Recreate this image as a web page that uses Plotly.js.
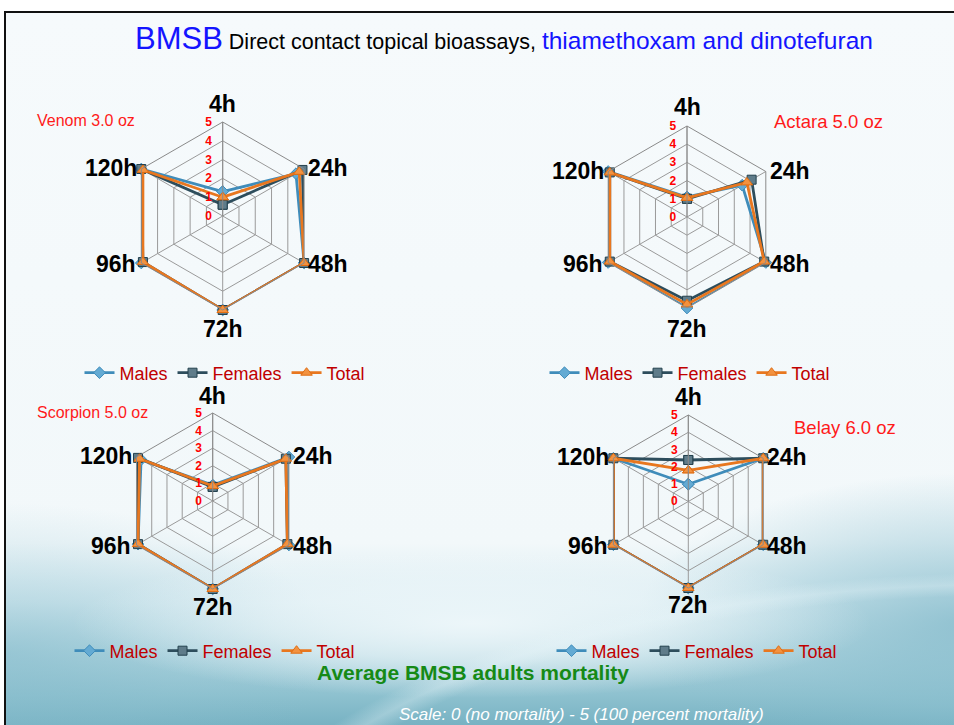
<!DOCTYPE html>
<html>
<head>
<meta charset="utf-8">
<script src="https://cdn.plot.ly/plotly-3.0.1.min.js"></script>
<style>
  html, body { margin: 0; padding: 0; background: #ffffff; }
  #wrap { position: relative; width: 954px; height: 725px; overflow: hidden; background: #ffffff; }
  #bg {
    position: absolute; left: 4px; top: 11px; width: 960px; height: 720px;
    border-left: 2px solid #111; border-top: 2px solid #111;
    background:
      radial-gradient(ellipse 800px 330px at 1000px 890px, rgba(255,255,255,0) 93%, rgba(232,245,249,0.32) 96.5%, rgba(255,255,255,0) 100%),
      radial-gradient(ellipse 400px 75px at 466px 610px, rgba(238,247,250,0.95) 0%, rgba(238,247,250,0.6) 50%, rgba(238,247,250,0) 100%),
      radial-gradient(ellipse 330px 150px at 960px 610px, rgba(128,184,201,0.75) 0%, rgba(140,192,208,0.4) 55%, rgba(140,192,208,0) 100%),
      radial-gradient(ellipse 330px 150px at 0px 640px, rgba(128,184,201,0.5) 0%, rgba(140,192,208,0.25) 55%, rgba(140,192,208,0) 100%),
      linear-gradient(to bottom, #f6fafc 0px, #f2f8fa 530px, #d8ebf1 590px, #abd2dd 645px, #8ec1cf 682px, #76b1c2 714px);
  }
  #chart { position: absolute; left: 0; top: 0; width: 954px; height: 725px; }
</style>
</head>
<body>
<div id="wrap">
  <div id="bg"></div>
  <div id="chart"></div>
</div>
<script>
// ---- data ----
var timepoints = ["4h", "24h", "48h", "72h", "96h", "120h"];
var seriesNames = ["Males", "Females", "Total"];
var radialTicks = [0, 1, 2, 3, 4, 5];

var venomMales   = [1.3, 4.5, 5.0, 5.0, 5.0, 5.0];
var venomFemales = [0.6, 4.9, 5.0, 5.0, 4.9, 5.0];
var venomTotal   = [1.0, 4.7, 5.0, 5.0, 4.9, 4.9];

var actaraMales   = [1.1, 3.5, 5.0, 5.0, 5.0, 5.0];
var actaraFemales = [1.0, 4.1, 4.9, 4.6, 4.9, 4.9];
var actaraTotal   = [1.05, 3.8, 4.9, 4.8, 4.9, 4.9];

var scorpionMales   = [0.9, 5.0, 5.0, 5.0, 4.9, 4.7];
var scorpionFemales = [0.8, 4.8, 4.9, 5.0, 4.9, 4.9];
var scorpionTotal   = [0.85, 4.8, 4.9, 5.0, 4.9, 4.8];

var belayMales   = [1.0, 5.0, 5.0, 5.0, 5.0, 5.0];
var belayFemales = [2.4, 5.0, 5.0, 5.0, 5.0, 5.0];
var belayTotal   = [1.8, 5.0, 5.0, 5.0, 5.0, 5.0];

var productLabels = ["Venom 3.0 oz", "Actara 5.0 oz", "Scorpion 5.0 oz", "Belay 6.0 oz"];

// ---- layout helpers ----
var W = 954, H = 725;
var FONT = "Liberation Sans, Arial, sans-serif";
var panels = [
  {cx: 222.7, cy: 216, r: 94, data: [venomMales, venomFemales, venomTotal], legend: {x: 225, y: 373}, top: 18, bot: 19},
  {cx: 687, cy: 217, r: 91, data: [actaraMales, actaraFemales, actaraTotal], legend: {x: 690, y: 373}, top: 19, bot: 21},
  {cx: 212.7, cy: 501, r: 88, data: [scorpionMales, scorpionFemales, scorpionTotal], legend: {x: 215, y: 651}, top: 17, bot: 18},
  {cx: 688.3, cy: 501.5, r: 86.5, data: [belayMales, belayFemales, belayTotal], legend: {x: 697, y: 651}, top: 18, bot: 17}
];
var styles = [
  {line: "#3f8cba", fill: "#63aad3", border: "#3f8cba", symbol: "diamond", size: 9},
  {line: "#2d4d5c", fill: "#5f7c8a", border: "#23404d", symbol: "square", size: 9},
  {line: "#e8771f", fill: "#f29240", border: "#e06d12", symbol: "triangle-up", size: 10}
];

var traces = [];
var layout = {
  width: W, height: H,
  margin: {l: 0, r: 0, t: 0, b: 0},
  paper_bgcolor: "rgba(0,0,0,0)",
  plot_bgcolor: "rgba(0,0,0,0)",
  font: {family: FONT},
  showlegend: true,
  annotations: []
};

function ann(text, x, y, xa, ya, font) {
  layout.annotations.push({
    text: text, xref: "paper", yref: "paper", x: x / W, y: 1 - y / H,
    xanchor: xa, yanchor: ya, showarrow: false, font: font
  });
}

var labelFont = {family: FONT, size: 23, color: "#000000", weight: "bold"};

panels.forEach(function (p, i) {
  var pid = i === 0 ? "polar" : "polar" + (i + 1);
  var lid = i === 0 ? "legend" : "legend" + (i + 1);
  layout[pid] = {
    domain: {
      x: [(p.cx - p.r) / W, (p.cx + p.r) / W],
      y: [1 - (p.cy + p.r) / H, 1 - (p.cy - p.r) / H]
    },
    bgcolor: "rgba(0,0,0,0)",
    gridshape: "linear",
    radialaxis: {
      range: [0, 5], tickvals: radialTicks, ticktext: radialTicks.map(String),
      angle: 90, side: "counterclockwise", tickangle: 90,
      showline: true, linecolor: "#8a8a8a", linewidth: 1,
      gridcolor: "#9a9a9a", gridwidth: 1,
      ticks: "outside", ticklen: 6, tickcolor: "rgba(0,0,0,0)",
      tickfont: {family: FONT, size: 12, color: "#ff0000", weight: "bold"}
    },
    angularaxis: {
      type: "category", categoryarray: timepoints,
      rotation: 90, direction: "clockwise",
      showline: true, linecolor: "#8a8a8a", linewidth: 1,
      gridcolor: "#9a9a9a", gridwidth: 1, ticks: "",
      showticklabels: false
    }
  };
  layout[lid] = {
    x: p.legend.x / W, y: 1 - p.legend.y / H, xanchor: "center", yanchor: "middle",
    orientation: "h", bgcolor: "rgba(0,0,0,0)",
    font: {family: FONT, size: 18, color: "#c00000"},
    itemwidth: 30, tracegroupgap: 0
  };
  p.data.forEach(function (vals, j) {
    var s = styles[j];
    traces.push({
      type: "scatterpolar",
      subplot: pid,
      legend: lid,
      name: seriesNames[j],
      r: vals.concat([vals[0]]),
      theta: timepoints.concat([timepoints[0]]),
      mode: "lines+markers",
      line: {color: s.line, width: 2.8},
      marker: {symbol: s.symbol, size: s.size, color: s.fill, line: {color: s.border, width: 1}},
      hoverinfo: "r+theta+name"
    });
  });
  // category labels at the hexagon vertices
  var dx = p.r * Math.cos(Math.PI / 6), dy = p.r * Math.sin(Math.PI / 6);
  ann(timepoints[0], p.cx, p.cy - p.r - p.top, "center", "middle", labelFont);
  ann(timepoints[1], p.cx + dx + 2, p.cy - dy - 1, "left", "middle", labelFont);
  ann(timepoints[2], p.cx + dx + 2, p.cy + dy + 1, "left", "middle", labelFont);
  ann(timepoints[3], p.cx, p.cy + p.r + p.bot, "center", "middle", labelFont);
  ann(timepoints[4], p.cx - dx - 3, p.cy + dy + 1, "right", "middle", labelFont);
  ann(timepoints[5], p.cx - dx - 2, p.cy - dy - 1, "right", "middle", labelFont);
});

// product labels
var prodPos = [[35, 120, "left", 16], [885, 122, "right", 18.5], [35, 412, "left", 16], [898, 427, "right", 18.5]];
productLabels.forEach(function (t, i) {
  ann(t, prodPos[i][0], prodPos[i][1], prodPos[i][2], "middle",
      {family: FONT, size: prodPos[i][3], color: "#ff1a1a"});
});

// title
ann('<span style="font-size:31px;color:#1414ff">BMSB</span>' +
    '<span style="font-size:21.5px;color:#000000"> Direct contact topical bioassays, </span>' +
    '<span style="font-size:24.5px;color:#1414ff">thiamethoxam and dinotefuran</span>',
    504, 39, "center", "middle", {family: FONT, size: 21, color: "#000"});
ann("Average BMSB adults mortality", 473, 672, "center", "middle",
    {family: FONT, size: 21, color: "#168a16", weight: "bold"});
ann("<i>Scale: 0 (no mortality) - 5 (100 percent mortality)</i>", 581, 714, "center", "middle",
    {family: FONT, size: 17, color: "#ffffff"});

Plotly.newPlot("chart", traces, layout, {displayModeBar: false, staticPlot: true});
</script>
</body>
</html>
